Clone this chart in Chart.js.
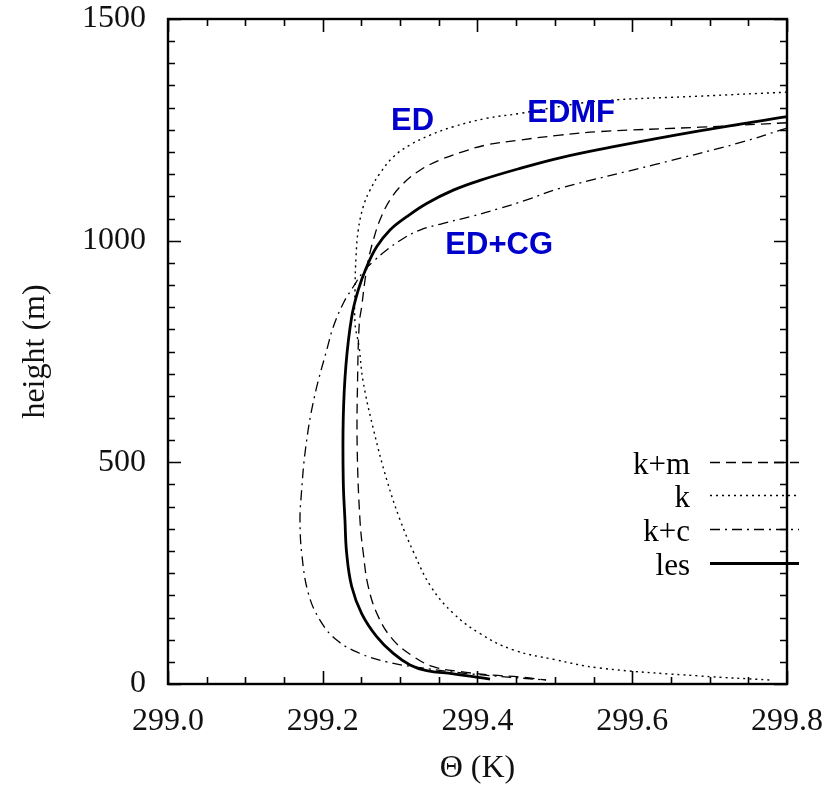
<!DOCTYPE html>
<html>
<head>
<meta charset="utf-8">
<script src="https://cdn.jsdelivr.net/npm/chart.js@4"></script>
<style>
  html, body { margin: 0; padding: 0; background: #fff; }
  #wrap { width: 832px; height: 788px; }
</style>
</head>
<body>
<div id="wrap"><canvas id="Chart1" width="832" height="788"></canvas></div>
<script>
// potential temperature profiles (K) against height (m)
const les_theta = [299.8, 299.685, 299.576, 299.5066, 299.4549, 299.4032, 299.3687, 299.3343, 299.3085, 299.2869, 299.2697, 299.2568, 299.2459, 299.2374, 299.2300, 299.2265, 299.2265, 299.2287, 299.2309, 299.2374, 299.2503, 299.2697, 299.2912, 299.3128, 299.3343, 299.3687, 299.4162];
const les_z     = [1280, 1247, 1212, 1187, 1163, 1136, 1114, 1084, 1054, 1024, 986, 941, 889, 828, 720, 600, 459, 370, 295, 220, 159, 107, 69, 43, 30, 23, 11];

const km_theta = [299.8, 299.6876, 299.558, 299.5066, 299.4549, 299.4119, 299.3816, 299.3515, 299.3257, 299.3041, 299.2869, 299.2740, 299.2653, 299.2589, 299.2546, 299.2503, 299.2472, 299.245, 299.2445, 299.2481, 299.2524, 299.2589, 299.2718, 299.2912, 299.3170, 299.3429, 299.3774, 299.4204, 299.4549, 299.4886];
const km_z     = [1266, 1256, 1246, 1238, 1227, 1216, 1201, 1182, 1159, 1129, 1092, 1047, 1001, 956, 911, 851, 814, 684, 534, 370, 295, 219, 152, 99, 62, 39, 28, 20, 16, 9];

const k_theta = [299.8, 299.6876, 299.558, 299.4937, 299.4549, 299.4119, 299.3687, 299.3386, 299.3128, 299.2912, 299.2740, 299.2611, 299.2524, 299.2459, 299.2430, 299.2417, 299.2417, 299.247, 299.252, 299.266, 299.283, 299.300, 299.318, 299.340, 299.369, 299.403, 299.446, 299.5, 299.558, 299.688, 299.778];
const k_z     = [1335, 1326, 1315, 1299, 1287, 1276, 1257, 1238, 1216, 1189, 1152, 1114, 1077, 1024, 964, 889, 814, 760, 684, 571, 459, 370, 295, 219, 159, 114, 77, 55, 36, 18, 9];

const kc_theta = [299.8, 299.739, 299.630, 299.5066, 299.4636, 299.4291, 299.3903, 299.3558, 299.3257, 299.3041, 299.2826, 299.2653, 299.2524, 299.2395, 299.2266, 299.2137, 299.206, 299.189, 299.178, 299.172, 299.1706, 299.1728, 299.1813, 299.1964, 299.218, 299.2481, 299.2826, 299.3170, 299.3903, 299.4886];
const kc_z     = [1254, 1221, 1172, 1118, 1092, 1073, 1054, 1039, 1024, 1005, 979, 953, 930, 896, 859, 806, 759, 646, 534, 421, 370, 295, 205, 144, 99, 69, 50, 39, 23, 9];

const legend_names = ['k+m', 'k', 'k+c', 'les'];
const model_labels = [
  {text: 'ED', theta: 299.316, z: 1270},
  {text: 'EDMF', theta: 299.521, z: 1287},
  {text: 'ED+CG', theta: 299.428, z: 990}
];

const pts = (xs, ys) => xs.map((x, i) => ({x: x, y: ys[i]}));

const serif = "'Liberation Serif', 'Times New Roman', serif";

const styles = {
  'k+m': {dash: [10, 6], width: 1.3},
  'k':   {dash: [2, 4], width: 1.4},
  'k+c': {dash: [10, 5, 2, 5], width: 1.3},
  'les': {dash: [], width: 2.8}
};

// frame, inward ticks on all sides, legend and blue labels
const framePlugin = {
  id: 'frame',
  afterDraw(chart) {
    const c = chart.ctx, a = chart.chartArea;
    const xs = chart.scales.x, ys = chart.scales.y;
    c.save();
    c.strokeStyle = '#000';
    c.setLineDash([]);
    c.lineWidth = 1.6;
    for (let v = 0; v <= 1500.01; v += 50) {
      const y = Math.round(ys.getPixelForValue(v)) + 0.5;
      const len = (Math.round(v) % 500 === 0) ? 13 : 7;
      c.beginPath();
      c.moveTo(a.left, y); c.lineTo(a.left + len, y);
      c.moveTo(a.right, y); c.lineTo(a.right - len, y);
      c.stroke();
    }
    for (let i = 0; i <= 16; i++) {
      const v = 299.0 + i * 0.05;
      const x = Math.round(xs.getPixelForValue(v)) + 0.5;
      const len = (i % 4 === 0) ? 13 : 7;
      c.beginPath();
      c.moveTo(x, a.bottom); c.lineTo(x, a.bottom - len);
      c.moveTo(x, a.top); c.lineTo(x, a.top + len);
      c.stroke();
    }
    c.lineWidth = 2.4;
    c.strokeRect(a.left, a.top, a.right - a.left, a.bottom - a.top);

    // legend
    c.font = '31px ' + serif;
    c.fillStyle = '#000';
    c.textAlign = 'right';
    c.textBaseline = 'alphabetic';
    const rows = [462, 495, 529, 563];
    legend_names.forEach((n, i) => {
      const y = rows[i];
      c.fillText(n, 690, y + 12);
      c.setLineDash(styles[n].dash);
      c.lineWidth = styles[n].width;
      c.beginPath();
      c.moveTo(710, y + 0.5); c.lineTo(799, y + 0.5);
      c.stroke();
    });
    c.setLineDash([]);

    // scheme labels
    c.font = 'bold 31px "Liberation Sans", Arial, sans-serif';
    c.fillStyle = '#0000CC';
    c.textAlign = 'center';
    c.textBaseline = 'middle';
    model_labels.forEach(l => {
      c.fillText(l.text, xs.getPixelForValue(l.theta), ys.getPixelForValue(l.z));
    });
    c.restore();
  }
};

const noPad = (s) => {
  s.paddingTop = 0; s.paddingBottom = 0; s.paddingLeft = 0; s.paddingRight = 0;
};

const mk = (name, xs, ys) => ({
  label: name,
  data: pts(xs, ys),
  showLine: true,
  borderColor: '#000',
  borderWidth: styles[name].width,
  borderDash: styles[name].dash,
  pointRadius: 0,
  tension: 0.4,
  fill: false
});

const ctx = document.getElementById('Chart1').getContext('2d');
const config = {
  type: 'scatter',
  data: {
    datasets: [
      mk('les', les_theta, les_z),
      mk('k+m', km_theta, km_z),
      mk('k', k_theta, k_z),
      mk('k+c', kc_theta, kc_z)
    ]
  },
  options: {
    responsive: false,
    maintainAspectRatio: false,
    animation: false,
    layout: {
      autoPadding: false,
      padding: {left: 0, top: 19, right: 45, bottom: 0}
    },
    plugins: {
      legend: {display: false},
      tooltip: {enabled: false}
    },
    scales: {
      x: {
        type: 'linear',
        min: 299.0,
        max: 299.8,
        afterFit: (s) => { s.height = 104; noPad(s); },
        grid: {display: false, drawTicks: false},
        border: {display: false},
        ticks: {
          stepSize: 0.2,
          padding: 18,
          color: '#111',
          font: {family: serif, size: 32},
          callback: (v) => v.toFixed(1)
        },
        title: {
          display: true,
          text: 'Θ (K)',
          color: '#111',
          font: {family: serif, size: 32},
          padding: {top: 4, bottom: 0}
        }
      },
      y: {
        type: 'linear',
        min: 0,
        max: 1500,
        afterFit: (s) => { s.width = 168; noPad(s); },
        grid: {display: false, drawTicks: false},
        border: {display: false},
        ticks: {
          stepSize: 500,
          padding: 22,
          color: '#111',
          font: {family: serif, size: 32},
          callback: (v) => String(v)
        },
        title: {
          display: true,
          text: 'height (m)',
          color: '#111',
          font: {family: serif, size: 32},
          padding: {top: 16, bottom: 0}
        }
      }
    }
  },
  plugins: [framePlugin]
};
var myChart1 = new Chart(ctx, config);
</script>
</body>
</html>
